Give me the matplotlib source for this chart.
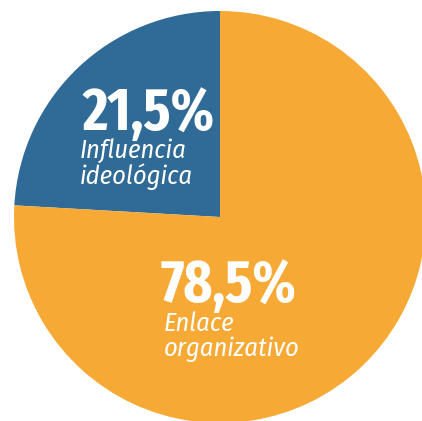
import matplotlib.pyplot as plt

# slices (wedge shares as drawn in the picture, labels as printed)
pct_text = ["21,5%", "78,5%"]
labels = [["Influencia", "ideológica"], ["Enlace", "organizativo"]]
shares = [24.1, 75.9]
colors = ["#306A96", "#F7A935"]

fig = plt.figure(figsize=(4.22, 4.21), dpi=100)
ax = fig.add_axes([0, 0, 1, 1])

ax.pie(shares, colors=colors, startangle=90, counterclock=True,
       center=(220, 204), radius=206, frame=True,
       wedgeprops={"linewidth": 0})

ax.set_xlim(0, 422)
ax.set_ylim(0, 421)
ax.axis("off")

big = dict(family=["Fira Sans Extra Condensed", "DejaVu Sans"], weight=700,
           color="white", fontsize=43, va="baseline", ha="left")
small = dict(family=["Fira Sans Condensed", "DejaVu Sans"], style="italic",
             weight=400, color="white", fontsize=19, va="baseline", ha="left")

# text anchors in image pixels (x, baseline y from the top)
anchors = [(82, 130, 80, [159, 184]), (161, 302, 164, [331, 356])]

for pct, lines, (px, py, lx, lys) in zip(pct_text, labels, anchors):
    ax.text(px, 421 - py, pct, **big)
    for line, ly in zip(lines, lys):
        ax.text(lx, 421 - ly, line, **small)

fig.savefig("out.png", dpi=100)
